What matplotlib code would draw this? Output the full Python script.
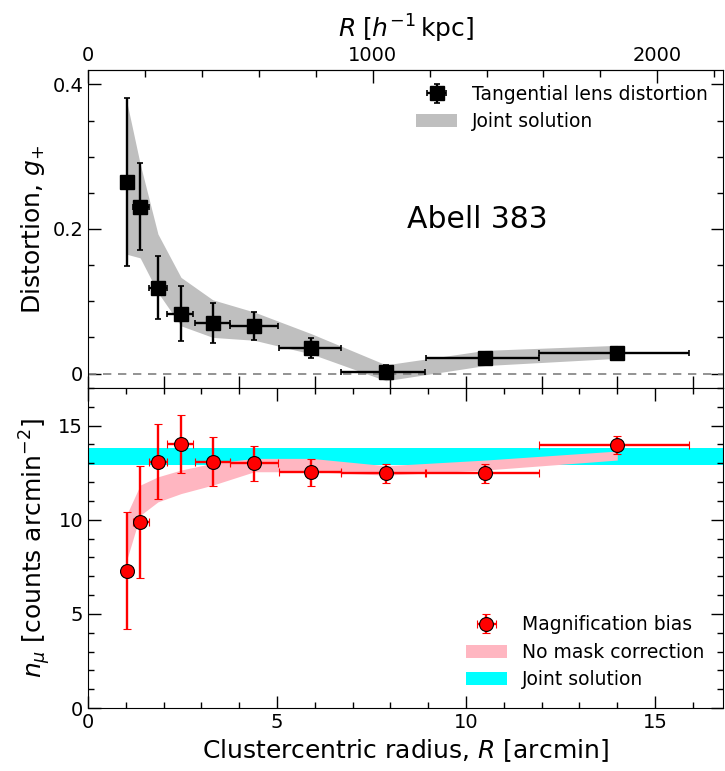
import numpy as np
import matplotlib.pyplot as plt
from matplotlib.ticker import MultipleLocator, FixedLocator, FixedFormatter

# radial bins [arcmin]
r_bin = [1.03, 1.38, 1.85, 2.46, 3.30, 4.40, 5.91, 7.88, 10.50, 14.00]
r_lo = [0.90, 1.19, 1.60, 2.10, 2.82, 3.75, 5.05, 6.70, 8.93, 11.92]
r_hi = [1.19, 1.60, 2.10, 2.79, 3.75, 5.02, 6.68, 8.92, 11.92, 15.90]

# tangential reduced shear
g_t = [0.265, 0.231, 0.119, 0.083, 0.070, 0.066, 0.035, 0.002, 0.022, 0.029]
g_err = [0.116, 0.060, 0.044, 0.038, 0.028, 0.019, 0.014, 0.010, 0.005, 0.005]
g_joint_lo = [0.165, 0.160, 0.112, 0.066, 0.050, 0.046, 0.027, -0.010, 0.011, 0.021]
g_joint_hi = [0.375, 0.290, 0.193, 0.133, 0.102, 0.085, 0.055, 0.012, 0.032, 0.039]

# number counts of red background galaxies
n_mu = [7.29, 9.88, 13.09, 14.03, 13.09, 13.00, 12.51, 12.46, 12.46, 13.97]
n_err = [3.10, 2.95, 1.98, 1.53, 1.30, 0.93, 0.70, 0.50, 0.50, 0.50]
n_nomask_lo = [7.90, 10.23, 10.95, 11.39, 11.84, 12.55, 12.55, 12.37, 12.64, 13.17]
n_nomask_hi = [10.30, 11.84, 12.28, 12.64, 13.00, 13.26, 13.26, 12.87, 13.17, 13.65]
n_joint = [12.93, 13.83]

kpc_per_arcmin = 132.8

r = np.array(r_bin)
xerr = [r - np.array(r_lo), np.array(r_hi) - r]

fig = plt.figure(figsize=(7.25, 7.71), dpi=100)
ax1 = fig.add_axes([0.1214, 0.4968, 0.876, 0.4124])
ax2 = fig.add_axes([0.1214, 0.0817, 0.876, 0.4151])

# --- shear panel ---
ax1.fill_between(r_bin, g_joint_lo, g_joint_hi, color='#bfbfbf', lw=0,
                 label='Joint solution')
ax1.axhline(0, color='gray', ls='--', lw=1.2, dashes=(5, 4))
ax1.errorbar(r_bin, g_t, yerr=g_err, xerr=xerr, fmt='s', color='black',
             ms=10, elinewidth=1.7, capsize=2.5, capthick=1.2,
             label='Tangential lens distortion')
ax1.text(10.3, 0.213, 'Abell 383', fontsize=21.5, ha='center', va='center')
ax1.set_xlim(0, 16.8)
ax1.set_ylim(-0.02, 0.42)
ax1.set_ylabel('Distortion, $g_{+}$', fontsize=18)
ax1.yaxis.set_major_locator(FixedLocator([0, 0.2, 0.4]))
ax1.yaxis.set_major_formatter(FixedFormatter(['0', '0.2', '0.4']))
ax1.yaxis.set_minor_locator(MultipleLocator(0.05))
ax1.xaxis.set_major_locator(MultipleLocator(2))
ax1.tick_params(axis='x', which='both', direction='in', top=False,
                labelbottom=False, width=1)
ax1.tick_params(axis='y', which='both', direction='in', right=True,
                labelsize=14, width=1)
ax1.tick_params(which='major', length=9)
ax1.tick_params(which='minor', length=4)

h, l = ax1.get_legend_handles_labels()
ax1.legend(h[::-1], l[::-1], loc='upper right', frameon=False, fontsize=13.5,
           handlelength=2.2, borderaxespad=0.4, labelspacing=0.45)

top = ax1.secondary_xaxis('top', functions=(lambda x: x * kpc_per_arcmin,
                                            lambda x: x / kpc_per_arcmin))
top.xaxis.set_major_locator(FixedLocator([0, 1000, 2000]))
top.xaxis.set_minor_locator(FixedLocator(np.arange(200, 2201, 200)))
top.tick_params(which='both', direction='in', labelsize=14, width=1)
top.tick_params(which='major', length=9)
top.tick_params(which='minor', length=5)
top.set_xlabel(r'$R\;[h^{-1}\,\mathrm{kpc}]$', fontsize=18, labelpad=6)

# --- magnification bias panel ---
ax2.axhspan(n_joint[0], n_joint[1], color='cyan', lw=0, label='Joint solution')
ax2.fill_between(r_bin, n_nomask_lo, n_nomask_hi, color='#ffb6c1', lw=0,
                 label='No mask correction')
ax2.errorbar(r_bin, n_mu, yerr=n_err, xerr=xerr, fmt='o', color='red',
             mec='black', mew=0.8, ms=10, elinewidth=1.7, capsize=3,
             capthick=1.2, label='Magnification bias')
ax2.set_xlim(0, 16.8)
ax2.set_ylim(0, 17)
ax2.set_xlabel('Clustercentric radius, $R$ [arcmin]', fontsize=18)
ax2.set_ylabel(r'$n_{\mu}$ [counts arcmin$^{-2}$]', fontsize=18)
ax2.xaxis.set_major_locator(MultipleLocator(5))
ax2.xaxis.set_minor_locator(MultipleLocator(1))
ax2.yaxis.set_major_locator(MultipleLocator(5))
ax2.yaxis.set_minor_locator(MultipleLocator(1))
ax2.tick_params(which='both', direction='in', top=True, right=True,
                labelsize=14, width=1)
ax2.tick_params(which='major', length=9)
ax2.tick_params(which='minor', length=4)

h, l = ax2.get_legend_handles_labels()
ax2.legend([h[2], h[1], h[0]], [l[2], l[1], l[0]], loc='lower right',
           frameon=False, fontsize=13.5, handlelength=2.2, borderaxespad=0.6,
           labelspacing=0.45)

fig.savefig('out.png', dpi=100)
